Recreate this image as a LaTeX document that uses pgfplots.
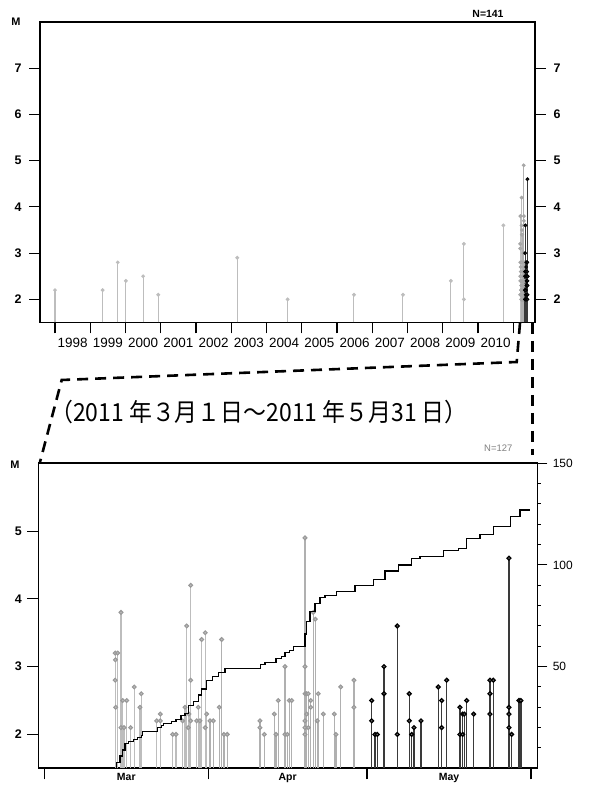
\documentclass[border=0pt]{standalone}
\usepackage{pgfplots}
\pgfplotsset{compat=1.18}
\usepackage{pgfplotstable}
\usepackage{graphicx}
\usepackage{fontspec}
\setmainfont{Liberation Sans}
\newfontfamily\jpfont{Noto Sans CJK JP}
\definecolor{lgray}{HTML}{BDBDBD}
\definecolor{agray}{HTML}{B0B0B0}
\definecolor{mgray}{HTML}{3A3A3A}

\pgfplotstableread{
y M
1998.00 2.2
1999.35 2.2
1999.78 2.8
2000.01 2.4
2000.50 2.5
2000.93 2.1
2003.17 2.9
2004.60 2.0
2006.48 2.1
2007.87 2.1
2009.23 2.4
2009.60 3.2
2009.60 2.0
2010.72 3.6
}\early

\pgfplotstableread{
d M
13.40 3.2
13.45 3.1
13.40 2.8
13.50 2.4
13.88 3.2
14.50 3.8
14.50 2.1
14.82 2.5
15.07 2.1
15.58 2.5
16.33 2.1
17.01 2.7
18.09 2.4
18.34 2.6
21.25 2.2
21.93 2.3
21.93 2.2
24.27 2.0
24.90 2.0
26.16 2.2
26.60 2.4
26.92 3.6
27.22 2.1
27.35 2.3
27.68 4.2
27.68 2.8
27.68 2.2
28.81 2.2
29.11 2.4
29.43 2.2
29.75 3.4
30.43 3.5
30.43 2.1
30.70 2.3
}\mar

\pgfplotstableread{
d M
31.32 2.2
31.95 2.2
33.08 2.4
33.53 3.4
33.97 2.0
34.59 2.0
40.77 2.2
40.77 2.1
41.59 2.0
43.48 2.3
43.80 2.0
44.23 2.5
45.50 3.0
45.50 2.0
45.94 2.0
46.31 2.5
46.77 2.5
49.28 4.9
49.28 3.0
49.28 2.6
49.28 2.2
49.28 2.1
49.28 2.0
49.60 2.3
49.60 2.6
49.91 2.6
49.91 2.1
50.36 2.5
50.36 2.4
50.85 3.8
51.23 3.7
51.60 2.2
51.80 2.6
52.74 2.3
54.82 2.3
55.14 2.0
56.03 2.7
58.54 2.8
58.54 2.4
}\apr

\pgfplotstableread{
d M
61.89 2.5
61.89 2.2
62.51 2.0
62.95 2.0
64.22 3.0
64.22 2.6
66.73 3.6
66.73 2.0
69.00 2.6
69.00 2.2
69.45 2.0
69.89 2.1
71.21 2.2
74.48 2.7
75.12 2.5
75.12 2.1
76.07 2.8
78.58 2.4
78.58 2.0
79.09 2.3
79.09 2.0
79.40 2.3
79.85 2.5
81.17 2.3
84.25 2.8
84.25 2.6
84.25 2.3
84.88 2.8
87.84 4.6
87.84 2.4
87.84 2.3
87.84 2.1
88.35 2.0
89.73 2.5
90.10 2.5
}\may

\pgfplotstableread{
d N
13.38 0
13.69 3
14.31 6
14.82 9
15.26 12
15.88 13
16.82 14
17.58 15
18.41 16
18.60 18
21.36 20
22.19 21
22.50 22
24.08 23
24.90 24
25.84 26
26.60 27
27.22 31
28.17 33
29.11 36
29.75 39
30.70 43
31.83 45
32.89 47
34.16 49
40.91 51
41.72 52
43.80 54
44.88 55
45.50 57
46.31 58
47.07 60
49.28 66
49.60 72
50.23 77
51.17 81
52.12 84
53.06 85
55.27 87
58.73 90
62.19 93
64.40 97
66.92 100
69.45 103
71.02 104
75.43 107
78.26 108
79.85 113
82.36 115
84.88 119
88.17 124
89.93 127
91.81 127
}\cum

\pgfplotsset{
  every tick label/.append style={font=\fontsize{12}{12}\selectfont},
  /pgf/number format/assume math mode=true,
  stem/.style={ycomb, line width=1.1bp, mark=*, mark size=1.5bp},
}

\begin{document}
\begin{tikzpicture}[x=1bp,y=1bp]
\path (0,0) rectangle (589,787);

% ---------------- top panel ----------------
\begin{axis}[
  at={(40bp,464.5bp)}, anchor=south west, scale only axis,
  width=495bp, height=300.5bp,
  xmin=1997.574, xmax=2011.617, ymin=1.5, ymax=8,
  axis line style={line width=1.6bp},
  tick align=outside, major tick length=11bp,
  tick style={line width=1.1bp, black},
  xtick={1998,...,2011},
  xticklabels={1998,1999,2000,2001,2002,2003,2004,2005,2006,2007,2008,2009,2010},
  x tick label as interval,
  xtick pos=bottom, ytick pos=left,
  ytick={2,3,4,5,6,7},
  yticklabel style={font=\fontsize{12.5}{12.5}\selectfont\bfseries, xshift=-4bp},
  xticklabel style={font=\fontsize{13.5}{13.5}\selectfont, yshift=-1bp},
]
\addplot[stem, lgray, mark options={fill=lgray, draw=lgray}, mark size=1.3bp] table[x=y, y=M] {\early};
\addplot[stem, lgray, mark options={fill=lgray, draw=gray!70}, mark size=1.3bp] table[x expr={2011+(\thisrow{d}+59)/365}, y=M] {\mar};
\addplot[stem, agray, mark options={fill=lgray, draw=gray!70}, mark size=1.3bp] table[x expr={2011+(\thisrow{d}+59)/365}, y=M] {\apr};
\addplot[stem, mgray, mark options={fill=gray, draw=black}, mark size=1.3bp] table[x expr={2011+(\thisrow{d}+59)/365}, y=M] {\may};
\end{axis}
\begin{axis}[
  at={(40bp,464.5bp)}, anchor=south west, scale only axis,
  width=495bp, height=300.5bp,
  xmin=1997.574, xmax=2011.617, ymin=1.5, ymax=8,
  axis y line*=right, axis x line=none,
  axis line style={line width=1.6bp},
  tick align=outside, major tick length=11bp,
  tick style={line width=1.1bp, black},
  ytick={2,3,4,5,6,7},
  yticklabel style={font=\fontsize{12.5}{12.5}\selectfont\bfseries, xshift=4bp},
]
\end{axis}
\node[font=\fontsize{11}{11}\selectfont\bfseries] at (16,765) {M};
\node[font=\fontsize{10.5}{10.5}\selectfont\bfseries] at (488,773) {N=141};

% ---------------- connector and title ----------------
\draw[line width=2.6bp, dash pattern=on 11bp off 7bp]
  (520,464) -- (516.7,425) -- (61.7,407) -- (40,325);
\draw[line width=2.6bp, dash pattern=on 11bp off 7bp]
  (532.7,464) -- (532.7,332);
\node[font=\jpfont\fontsize{25}{25}\selectfont] at (259,375) {\scalebox{0.92}[1]{（2011 年３月１日～2011 年５月31 日）}};
\node[font=\fontsize{9.5}{9.5}\selectfont, text=gray] at (498.3,338.7) {N=127};

% ---------------- bottom panel ----------------
\begin{axis}[
  at={(38.3bp,18.7bp)}, anchor=south west, scale only axis,
  width=499bp, height=305bp,
  xmin=-1.13, xmax=93.2, ymin=1.5, ymax=6,
  axis line style={line width=1.6bp},
  tick align=outside, major tick length=11bp,
  tick style={line width=1.1bp, black},
  xtick={0,31,61,92}, xticklabels={Mar,Apr,May},
  x tick label as interval,
  xtick pos=bottom, ytick pos=left,
  ytick={2,3,4,5},
  yticklabel style={font=\fontsize{12.5}{12.5}\selectfont\bfseries, xshift=-2bp},
  xticklabel style={font=\fontsize{10.5}{10.5}\selectfont\bfseries, yshift=7bp, inner sep=1bp},
]
\addplot[stem, lgray, mark options={fill=lgray, draw=gray!80}, mark size=1.9bp] table[x=d, y=M] {\mar};
\addplot[stem, agray, mark options={fill=lgray, draw=gray!80}, mark size=1.9bp] table[x=d, y=M] {\apr};
\addplot[stem, mgray, line width=1.3bp, mark options={fill=gray, draw=black}, mark size=1.9bp] table[x=d, y=M] {\may};
\end{axis}
\begin{axis}[
  at={(38.3bp,18.7bp)}, anchor=south west, scale only axis,
  width=499bp, height=305bp,
  xmin=-1.13, xmax=93.2, ymin=0, ymax=150,
  axis y line*=right, axis x line=none,
  axis line style={line width=1.6bp},
  tick align=outside, major tick length=10bp, minor tick length=3.5bp,
  tick style={line width=1bp, black},
  ytick={50,100,150}, minor ytick={10,20,30,40,60,70,80,90,110,120,130,140},
  yticklabel style={font=\fontsize{12}{12}\selectfont, xshift=2bp},
]
\addplot[const plot, black, line width=1.2bp] table[x=d, y=N] {\cum};
\end{axis}
\node[font=\fontsize{11}{11}\selectfont\bfseries] at (15,322) {M};
\end{tikzpicture}
\end{document}
